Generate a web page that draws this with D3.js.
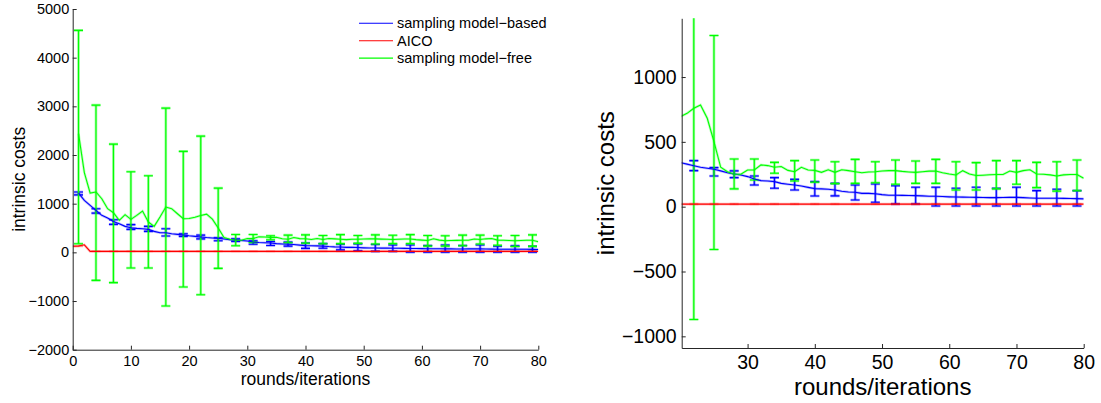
<!DOCTYPE html>
<html><head><meta charset="utf-8">
<script src="https://cdn.jsdelivr.net/npm/d3@7"></script>
<style>
body{margin:0;background:#fff}
svg{display:block}
text{font-family:"Liberation Sans",Arial,Helvetica,sans-serif;fill:#000}
</style>
</head><body>
<svg id="c" width="1101" height="403"></svg>
<script>
// ---- data (iteration index = position + 1; red starts at iteration 0) ----
const seriesNames = ["sampling model\u2212based", "AICO", "sampling model\u2212free"];
const seriesColors = ["#0000ff", "#ff0000", "#00ff00"];

const blueLine = [1218,1067,965,862,760,705,636,588,534,507,493,486,472,431,404,404,383,370,356,340,
  328,316,304,296,289,276,262,252,244,232,214,201,198,193,180,173,167,160,149,139,
  137,134,129,119,113,111,103,103,100,93,88,88,87,86,85,83,81,80,78,76,
  75,74,73,72,71,70,70,71,72,72,70,67,65,65,65,65,64,63,62,60];
const redLine = [125,130,155,20,20,20,20,20,20,20,20,20,20,20,20,20,20,20,20,20,
  20,20,20,20,20,20,20,20,20,20,20,20,20,20,20,20,20,20,20,20,
  20,20,20,20,20,20,20,20,20,20,20,20,20,20,20,20,20,20,20,20,
  20,20,20,20,20,20,20,20,20,20,20,20,20,20,20,20,20,20,20,20,20];
const greenLine = [2440,1640,1218,1240,1102,897,815,657,774,678,760,848,623,534,725,931,897,794,691,695,
  720,759,785,682,502,304,270,250,250,283,283,322,317,304,310,280,270,304,283,280,
  265,285,265,285,278,270,262,268,270,275,278,278,272,268,265,270,274,275,262,252,
  244,278,252,240,243,246,248,248,275,265,278,285,252,250,245,237,245,248,248,219];

const barIters = [1,4,7,10,13,16,19,22,25,28,31,34,37,40,43,46,49,52,55,58,61,64,67,70,73,76,79];
const blueLow  = [1180,807,575,472,431,335,328,278,237,224,167,142,129,82,83,52,34,21,21,5,5,5,5,5,5,5,5];
const blueHigh = [1240,897,671,569,534,486,383,355,301,276,237,224,211,193,180,167,175,162,150,150,142,150,142,150,124,134,124];
const greenLow  = [178,-575,-622,-322,-322,-1102,-712,-870,-330,137,206,258,198,188,178,180,185,173,180,180,129,129,137,173,147,120,123];
const greenHigh = [4560,3024,2224,1657,1575,2963,2074,2388,1320,368,368,342,355,360,347,365,347,360,352,365,347,340,355,355,342,347,360];
const redLow  = [122,16,16,16,16,16,16,16,16,16,16,16,16,16,16,16,16,16,16,16,16,16,16,16,16,16,16];
const redHigh = [138,24,24,24,24,24,24,24,24,24,24,24,24,24,24,24,24,24,24,24,24,24,24,24,24,24,24];

const leftXTicks = [0,10,20,30,40,50,60,70,80];
const leftYTicks = [-2000,-1000,0,1000,2000,3000,4000,5000];
const rightXTicks = [30,40,50,60,70,80];
const rightYTicks = [-1000,-500,0,500,1000];
const xLabel = "rounds/iterations";
const yLabel = "intrinsic costs";

// ---- build series ----
const blueSeries = blueLine.map((v,i)=>({x:i+1,y:v}));
const redSeries = redLine.map((v,i)=>({x:i,y:v}));
const greenSeries = greenLine.map((v,i)=>({x:i+1,y:v}));
const bars = [
  {color:seriesColors[0], strong:true, d: barIters.map((it,i)=>({x:it,lo:blueLow[i],hi:blueHigh[i]}))},
  {color:seriesColors[1], strong:false, d: barIters.map((it,i)=>({x:it,lo:redLow[i],hi:redHigh[i]}))},
  {color:seriesColors[2], strong:true, d: barIters.map((it,i)=>({x:it,lo:greenLow[i],hi:greenHigh[i]}))}
];
const lines = [
  {color:seriesColors[0], d:blueSeries},
  {color:seriesColors[1], d:redSeries},
  {color:seriesColors[2], d:greenSeries}
];

const svg = d3.select("#c");

function panel(cfg){
  const x = d3.scaleLinear().domain(cfg.xd).range(cfg.xr);
  const y = d3.scaleLinear().domain(cfg.yd).range(cfg.yr);
  const g = svg.append("g");
  const clipId = "clip"+cfg.id;
  svg.append("clipPath").attr("id",clipId).append("rect")
    .attr("x",cfg.xr[0]).attr("y",cfg.yr[1]).attr("width",cfg.xr[1]-cfg.xr[0]).attr("height",cfg.yr[0]-cfg.yr[1]);
  const pg = g.append("g").attr("clip-path",`url(#${clipId})`);
  const cw = 4.5;
  const line = d3.line().x(d=>x(d.x)).y(d=>y(d.y));
  // light underlay
  lines.forEach(s=>{
    pg.append("path").datum(s.d).attr("d",line).attr("fill","none")
      .attr("stroke",s.color).attr("stroke-opacity",0.25).attr("stroke-width",2.6);
  });
  bars.forEach(b=>{
    const gg = pg.append("g").attr("stroke",b.color).attr("fill","none");
    const eb = (sel, w, op)=>{
      const e = sel.append("g").selectAll("g").data(b.d).enter().append("g").attr("stroke-opacity",op).attr("stroke-width",w);
      e.append("line").attr("x1",d=>x(d.x)).attr("x2",d=>x(d.x)).attr("y1",d=>y(d.lo)).attr("y2",d=>y(d.hi));
      e.append("line").attr("x1",d=>x(d.x)-cw).attr("x2",d=>x(d.x)+cw).attr("y1",d=>y(d.lo)).attr("y2",d=>y(d.lo));
      e.append("line").attr("x1",d=>x(d.x)-cw).attr("x2",d=>x(d.x)+cw).attr("y1",d=>y(d.hi)).attr("y2",d=>y(d.hi));
    };
    if(b.strong){
      eb(gg, 2.6, 0.4);
      eb(gg, 1.1, 1);
    } else {
      eb(gg, 1.5, 0.25);
    }
  });
  lines.forEach(s=>{
    pg.append("path").datum(s.d).attr("d",line).attr("fill","none")
      .attr("stroke",s.color).attr("stroke-width",1.1);
  });
  // axes
  const ax = g.append("g").attr("transform",`translate(0,${cfg.yr[0]})`)
    .call(d3.axisBottom(x).tickValues(cfg.xt).tickSizeInner(-4).tickSizeOuter(0).tickPadding(cfg.xpad).tickFormat(d3.format("d")));
  const ay = g.append("g").attr("transform",`translate(${cfg.xr[0]},0)`)
    .call(d3.axisLeft(y).tickValues(cfg.yt).tickSizeInner(-4).tickSizeOuter(0).tickPadding(cfg.ypad).tickFormat(d3.format("d")));
  [ax,ay].forEach(a=>{
    a.select(".domain").attr("stroke","#262626");
    a.selectAll(".tick line").attr("stroke","#262626");
    a.selectAll("text").attr("font-size",cfg.tfs).attr("fill","#000")
      .attr("font-family","'Liberation Sans',Arial,sans-serif");
  });
  g.append("text").attr("x",(cfg.xr[0]+cfg.xr[1])/2).attr("y",cfg.xlabY)
    .attr("text-anchor","middle").attr("font-size",cfg.lfs).text(xLabel);
  g.append("text").attr("transform",`translate(${cfg.ylabX},${(cfg.yr[0]+cfg.yr[1])/2}) rotate(-90)`)
    .attr("text-anchor","middle").attr("font-size",cfg.lfs).text(yLabel);
  return {x,y,g};
}

const L = panel({id:"L", xd:[0,80], xr:[72.7,538.3], yd:[-2000,5000], yr:[349.7,9],
  xt:leftXTicks, yt:leftYTicks, xpad:6, ypad:3.5, tfs:"14.5px", lfs:"17.5px", xlabY:385, ylabX:24.5});
const R = panel({id:"R", xd:[20.2,80], xr:[681.7,1083.7], yd:[-1090,1453], yr:[348,18.3],
  xt:rightXTicks, yt:rightYTicks, xpad:7, ypad:5, tfs:"19.5px", lfs:"24px", xlabY:395, ylabX:613.5});

// legend
const lg = svg.append("g");
seriesNames.forEach((n,i)=>{
  const yy = 23.3 + i*17.4;
  lg.append("line").attr("x1",359).attr("x2",393).attr("y1",yy).attr("y2",yy)
    .attr("stroke",seriesColors[i]).attr("stroke-width",1.1);
  lg.append("text").attr("x",397).attr("y",yy+5).attr("font-size","14.5px").text(n);
});
</script>
</body></html>
